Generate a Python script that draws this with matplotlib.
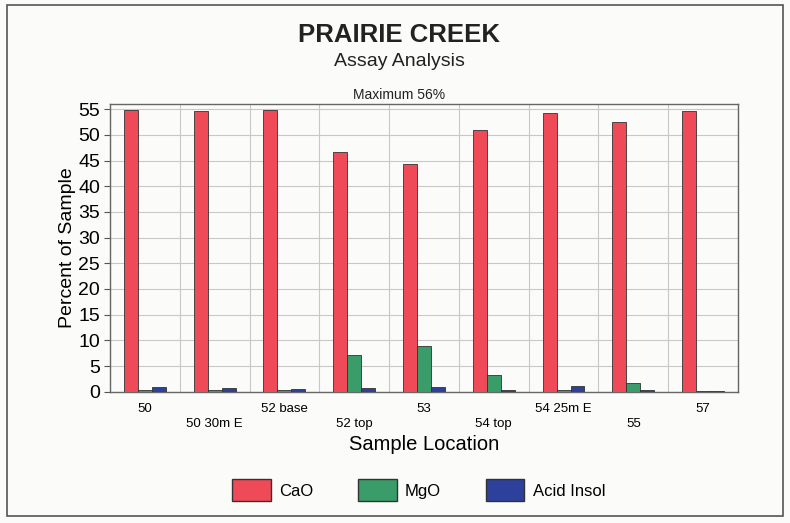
import matplotlib
matplotlib.use("Agg")
import matplotlib.pyplot as plt
from matplotlib.patches import Rectangle, Patch
import numpy as np

locations = ["50", "50 30m E", "52 base", "52 top", "53", "54 top", "54 25m E", "55", "57"]
cao = [54.8, 54.7, 54.9, 46.7, 44.3, 50.9, 54.2, 52.6, 54.6]
mgo = [0.4, 0.4, 0.3, 7.1, 8.9, 3.2, 0.3, 1.7, 0.1]
acid_insol = [0.9, 0.8, 0.5, 0.8, 0.9, 0.4, 1.2, 0.4, 0.2]
series_names = ["CaO", "MgO", "Acid Insol"]
yticks = list(range(0, 56, 5))

colors = ["#ee4a57", "#3a9c68", "#2c409c"]
font = ["Liberation Sans", "DejaVu Sans"]
plt.rcParams["font.family"] = font

fig = plt.figure(figsize=(7.9, 5.23), dpi=100)
fig.patch.set_facecolor("#fbfbfa")
fig.add_artist(Rectangle((0.009, 0.014), 0.982, 0.976, transform=fig.transFigure,
                         fill=False, edgecolor="#555555", linewidth=1.2))

ax = fig.add_axes([0.1392, 0.251, 0.795, 0.550])
ax.set_facecolor("#fbfbfa")
x = np.arange(len(locations))
w = 0.2
for i, (vals, name) in enumerate(zip([cao, mgo, acid_insol], series_names)):
    ax.bar(x + (i - 1) * w, vals, width=w, color=colors[i], edgecolor="#333333",
           linewidth=0.6, label=name, zorder=3)

ax.set_xlim(-0.5, len(locations) - 0.5)
ax.set_ylim(0, 56)
ax.set_yticks(yticks)
ax.set_yticklabels([str(t) for t in yticks], fontsize=14)
ax.set_xticks(x)
ax.set_xticklabels(locations, fontsize=9.5)
for i, t in enumerate(ax.get_xticklabels()):
    if i % 2 == 1:
        t.set_y(-0.052)
ax.tick_params(axis="x", length=0, pad=8)
ax.tick_params(axis="y", length=4, color="#555555", pad=3)
ax.set_xticks(np.arange(-0.5, len(locations), 1), minor=True)
ax.grid(True, which="minor", axis="x", color="#c8c8c8", linewidth=0.8, zorder=0)
ax.grid(True, which="major", axis="y", color="#c8c8c8", linewidth=0.8, zorder=0)
ax.tick_params(axis="x", which="minor", length=0)
for s in ax.spines.values():
    s.set_color("#666666")
    s.set_linewidth(1.0)

ax.set_ylabel("Percent of Sample", fontsize=14, labelpad=2)
ax.set_xlabel("Sample Location", fontsize=14.5, labelpad=4)

fig.text(0.505, 0.933, "PRAIRIE CREEK", ha="center", va="center", fontsize=18.5,
         fontweight="bold", color="#222222")
fig.text(0.505, 0.882, "Assay Analysis", ha="center", va="center", fontsize=14,
         color="#222222")
fig.text(0.505, 0.818, "Maximum 56%", ha="center", va="center", fontsize=10,
         color="#222222")

handles = [Patch(facecolor=c, edgecolor="#333333", label=n) for c, n in zip(colors, series_names)]
fig.legend(handles=handles, loc="center", bbox_to_anchor=(0.53, 0.063), ncol=3,
           frameon=False, handlelength=2.3, handleheight=1.6,
           columnspacing=2.7, handletextpad=0.5, prop={"size": 12})

fig.savefig("out.png", dpi=100, facecolor=fig.get_facecolor())
